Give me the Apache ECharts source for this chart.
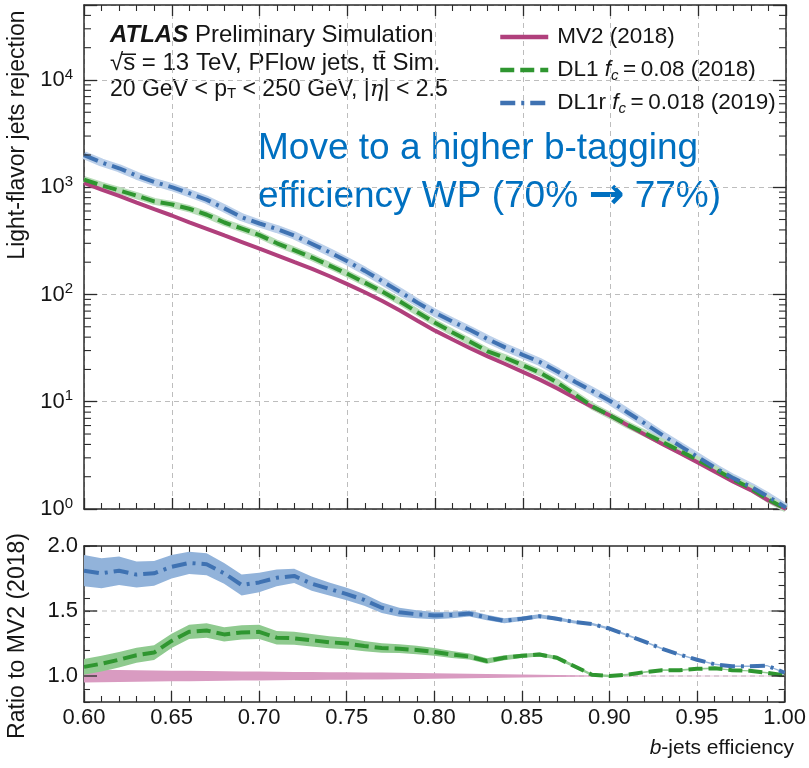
<!DOCTYPE html>
<html>
<head>
<meta charset="utf-8">
<script src="https://cdn.jsdelivr.net/npm/echarts@6/dist/echarts.min.js"></script>
<style>
  html, body { margin: 0; padding: 0; background: #fff; }
  #chart { width: 809px; height: 768px; }
</style>
</head>
<body>
<div id="chart"></div>
<script>
// b-jet tagging efficiency working points
const efficiency = [
  0.60, 0.61, 0.62, 0.63, 0.64, 0.65, 0.66, 0.67, 0.68, 0.69,
  0.70, 0.71, 0.72, 0.73, 0.74, 0.75, 0.76, 0.77, 0.78, 0.79,
  0.80, 0.81, 0.82, 0.83, 0.84, 0.85, 0.86, 0.87, 0.88, 0.89,
  0.90, 0.91, 0.92, 0.93, 0.94, 0.95, 0.96, 0.97, 0.98, 0.99,
  1.00
];

// light-flavour jet rejection per tagger
const rejectionMV2 = [
  1100, 950, 830, 720, 625, 545, 470, 410, 355, 308,
  267, 232, 200, 173, 148, 125, 105, 87, 71, 57,
  46, 38, 31.5, 26.5, 22.5, 19, 16, 13.2, 10.8, 8.9,
  7.4, 6.0, 4.9, 4.0, 3.3, 2.7, 2.2, 1.8, 1.5, 1.2,
  1.0
];
const rejectionDL1 = [
  1177, 1040, 934, 835, 738, 692, 630, 554, 469, 411,
  358, 300, 258, 221, 186, 156, 129, 106, 86, 68.4,
  54.5, 44.3, 36.2, 29.5, 25.7, 21.9, 18.6, 15.0, 11.6, 9.0,
  7.4, 6.06, 5.05, 4.18, 3.45, 2.85, 2.33, 1.88, 1.56, 1.23,
  1.0
];
const rejectionDL1r = [
  1991, 1700, 1502, 1282, 1119, 1003, 879, 763, 635, 524,
  459, 407, 354, 296, 247, 204, 166, 133, 106, 84,
  67.4, 55.9, 46.6, 38.4, 32.1, 27.4, 23.4, 19.0, 15.3, 12.5,
  10.1, 7.9, 6.2, 4.84, 3.84, 3.04, 2.40, 1.94, 1.61, 1.30,
  1.03
];

// ratio to MV2 (2018)
const ratioMV2 = [
  1, 1, 1, 1, 1, 1, 1, 1, 1, 1,
  1, 1, 1, 1, 1, 1, 1, 1, 1, 1,
  1, 1, 1, 1, 1, 1, 1, 1, 1, 1,
  1, 1, 1, 1, 1, 1, 1, 1, 1, 1,
  1
];
const ratioDL1 = [
  1.07, 1.095, 1.125, 1.16, 1.18, 1.27, 1.34, 1.35, 1.32, 1.335,
  1.34, 1.295, 1.29, 1.275, 1.26, 1.25, 1.23, 1.215, 1.21, 1.20,
  1.185, 1.165, 1.15, 1.115, 1.14, 1.155, 1.165, 1.14, 1.075, 1.01,
  1.00, 1.01, 1.03, 1.045, 1.045, 1.055, 1.06, 1.045, 1.04, 1.025,
  1.005
];
const ratioDL1r = [
  1.81, 1.79, 1.81, 1.78, 1.79, 1.84, 1.87, 1.86, 1.79, 1.70,
  1.72, 1.755, 1.77, 1.71, 1.67, 1.63, 1.585, 1.525, 1.49, 1.475,
  1.465, 1.47, 1.48, 1.45, 1.425, 1.44, 1.46, 1.44, 1.415, 1.40,
  1.365, 1.315, 1.265, 1.21, 1.165, 1.125, 1.09, 1.075, 1.075, 1.08,
  1.025
];

// statistical uncertainty (half width) of each ratio
const errMV2 = [
  0.05, 0.048, 0.046, 0.045, 0.043, 0.041, 0.04, 0.038, 0.037, 0.035,
  0.034, 0.033, 0.031, 0.03, 0.029, 0.028, 0.027, 0.026, 0.025, 0.023,
  0.022, 0.02, 0.018, 0.016, 0.014, 0.012, 0.01, 0.008, 0.006, 0.004,
  0.003, 0.002, 0.002, 0.002, 0.002, 0.001, 0.001, 0.001, 0.001, 0.001,
  0.001
];
const errDL1 = [
  0.06, 0.06, 0.06, 0.058, 0.056, 0.055, 0.055, 0.055, 0.055, 0.055,
  0.055, 0.052, 0.05, 0.048, 0.046, 0.045, 0.04, 0.037, 0.034, 0.032,
  0.03, 0.027, 0.024, 0.021, 0.019, 0.017, 0.015, 0.013, 0.011, 0.01,
  0.009, 0.008, 0.007, 0.007, 0.006, 0.006, 0.006, 0.005, 0.005, 0.005,
  0.005
];
const errDL1r = [
  0.12, 0.115, 0.11, 0.10, 0.095, 0.09, 0.085, 0.085, 0.08, 0.08,
  0.075, 0.065, 0.055, 0.055, 0.05, 0.048, 0.045, 0.04, 0.035, 0.03,
  0.028, 0.025, 0.023, 0.021, 0.019, 0.017, 0.015, 0.013, 0.011, 0.01,
  0.009, 0.008, 0.007, 0.007, 0.006, 0.006, 0.006, 0.005, 0.005, 0.005,
  0.005
];

// tagger names and legend labels
const taggerNames = ['MV2 (2018)', 'DL1 fc = 0.08 (2018)', 'DL1r fc = 0.018 (2019)'];
const legendLabels = [
  'MV2 (2018)',
  'DL1 {i|f}{sub|c}{n|\u2009=\u20090.08 (2018)}',
  'DL1r {i|f}{sub|c}{n|\u2009=\u20090.018 (2019)}'
];
const ratioTicks = [1.0, 1.5, 2.0];
const ratioGridLines = [1.0, 1.5];

const FONT = '"Liberation Sans", Arial, Helvetica, sans-serif';
const AXIS = '#2b2b2b';
const GRID = '#bdbdbd';
const TEXT = '#151515';
const NOTE = '#0070c0';
const C_MV2 = '#b0407c';
const C_DL1 = '#2f9630';
const C_DL1R = '#3f72b2';

const xMin = 0.6, xMax = 1.0;
const yMin = 1, yMax = 50000;

// log-scale minor tick positions (2..9 x 10^n)
const logMinorTicks = [];
for (let p = 0; p <= 4; p++) {
  for (let k = 2; k <= 9; k++) {
    const v = k * Math.pow(10, p);
    if (v < yMax) logMinorTicks.push(v);
  }
}

const zip = (xs, ys) => xs.map((x, i) => [x, ys[i]]);

function xAxisBase(gridIndex, position, showLabel, showSplit) {
  return {
    type: 'value', gridIndex, position, min: xMin, max: xMax, interval: 0.05,
    axisLine: { show: true, onZero: false, lineStyle: { color: AXIS, width: 1.5 } },
    axisTick: { show: true, inside: true, length: 11, lineStyle: { color: AXIS, width: 1.3 } },
    minorTick: { show: true, splitNumber: 5, length: 6, lineStyle: { color: AXIS, width: 1.1 } },
    axisLabel: {
      show: showLabel, margin: 5, fontSize: 22, fontFamily: FONT, color: TEXT,
      formatter: v => v.toFixed(2)
    },
    splitLine: { show: showSplit, lineStyle: { color: GRID, type: [5, 4], width: 1 } }
  };
}

function logAxis(position, showLabel) {
  return {
    type: 'log', logBase: 10, gridIndex: 0, position, min: yMin, max: yMax,
    axisLine: { show: true, onZero: false, lineStyle: { color: AXIS, width: 1.5 } },
    axisTick: { show: true, inside: true, length: 13, lineStyle: { color: AXIS, width: 1.3 } },
    axisLabel: {
      show: showLabel, margin: 11, fontFamily: FONT, color: TEXT,
      formatter: v => {
        const e = Math.log10(v);
        if (Math.abs(e - Math.round(e)) > 1e-6) return '';
        return '{b|10}{e|' + Math.round(e) + '}';
      },
      rich: {
        b: { fontSize: 22, lineHeight: 26, fontFamily: FONT, color: TEXT },
        e: { fontSize: 15, lineHeight: 15, verticalAlign: 'top', fontFamily: FONT, color: TEXT }
      }
    },
    splitLine: { show: position === 'left', lineStyle: { color: GRID, type: [5, 4], width: 1 } }
  };
}

function ratioAxis(position, showLabel) {
  return {
    type: 'value', gridIndex: 1, position, min: 0.8, max: 2.0, interval: 0.1,
    axisLine: { show: true, onZero: false, lineStyle: { color: AXIS, width: 1.5 } },
    axisTick: { show: true, inside: true, length: 6, lineStyle: { color: AXIS, width: 1.1 } },
    axisLabel: {
      show: showLabel, margin: 6, fontSize: 22, fontFamily: FONT, color: TEXT,
      formatter: v => ratioTicks.some(t => Math.abs(t - v) < 1e-6) ? v.toFixed(1) : ''
    },
    splitLine: { show: false }
  };
}

function bandSeries(center, err, fill) {
  return {
    type: 'custom', xAxisIndex: 2, yAxisIndex: 2, z: 2, silent: true,
    data: [[efficiency[0], center[0]]],
    renderItem: (params, api) => {
      const pts = [];
      for (let i = 0; i < efficiency.length; i++) {
        pts.push(api.coord([efficiency[i], center[i] + err[i]]));
      }
      for (let i = efficiency.length - 1; i >= 0; i--) {
        pts.push(api.coord([efficiency[i], center[i] - err[i]]));
      }
      return { type: 'polygon', shape: { points: pts }, style: { fill: fill } };
    }
  };
}

const dashDL1 = [14, 6];
const dashDL1r = [15, 6, 3, 6];

const option = {
  animation: false,
  backgroundColor: '#ffffff',
  textStyle: { fontFamily: FONT },
  grid: [
    { left: 84, right: 23, top: 5, height: 504 },
    { left: 84, right: 23, top: 546, height: 156 }
  ],
  xAxis: [
    xAxisBase(0, 'bottom', false, true),
    xAxisBase(0, 'top', false, false),
    xAxisBase(1, 'bottom', true, true),
    xAxisBase(1, 'top', false, false)
  ],
  yAxis: [
    logAxis('left', true),
    logAxis('right', false),
    ratioAxis('left', true),
    ratioAxis('right', false)
  ],
  legend: {
    orient: 'vertical', left: 493, top: 19,
    itemWidth: 48, itemHeight: 14, itemGap: 7,
    selectedMode: false,
    data: taggerNames,
    itemStyle: { opacity: 0 },
    lineStyle: { width: 4.5 },
    formatter: name => legendLabels[taggerNames.indexOf(name)],
    textStyle: {
      fontSize: 22.5, lineHeight: 26, fontFamily: FONT, color: TEXT, padding: [0, 0, 0, 4],
      rich: {
        i: { fontStyle: 'italic', fontSize: 22.5, fontFamily: FONT, color: TEXT },
        sub: { fontStyle: 'italic', fontSize: 15, lineHeight: 15, verticalAlign: 'bottom', fontFamily: FONT, color: TEXT },
        n: { fontSize: 22.5, fontFamily: FONT, color: TEXT }
      }
    }
  },
  series: [
    // uncertainty halos in the rejection panel
    {
      type: 'line', xAxisIndex: 0, yAxisIndex: 0, silent: true, symbol: 'none', z: 2,
      data: zip(efficiency, rejectionDL1r),
      lineStyle: { color: '#bcd0ea', width: 8 }
    },
    {
      type: 'line', xAxisIndex: 0, yAxisIndex: 0, silent: true, symbol: 'none', z: 2,
      data: zip(efficiency, rejectionDL1),
      lineStyle: { color: '#b9ddb9', width: 7 }
    },
    // rejection curves
    {
      name: taggerNames[0], type: 'line', xAxisIndex: 0, yAxisIndex: 0, symbol: 'none', z: 4,
      data: zip(efficiency, rejectionMV2),
      itemStyle: { color: C_MV2 },
      lineStyle: { color: C_MV2, width: 4 }
    },
    {
      name: taggerNames[1], type: 'line', xAxisIndex: 0, yAxisIndex: 0, symbol: 'none', z: 5,
      data: zip(efficiency, rejectionDL1),
      itemStyle: { color: C_DL1 },
      lineStyle: { color: C_DL1, width: 4, type: dashDL1 }
    },
    {
      name: taggerNames[2], type: 'line', xAxisIndex: 0, yAxisIndex: 0, symbol: 'none', z: 6,
      data: zip(efficiency, rejectionDL1r),
      itemStyle: { color: C_DL1R },
      lineStyle: { color: C_DL1R, width: 4, type: dashDL1r }
    },
    // minor ticks of the logarithmic axes
    {
      type: 'custom', xAxisIndex: 0, yAxisIndex: 0, silent: true, z: 10,
      data: logMinorTicks.map(v => [xMin, v]),
      renderItem: (params, api) => {
        const v = api.value(1);
        const l = api.coord([xMin, v]);
        const r = api.coord([xMax, v]);
        return {
          type: 'group', children: [
            { type: 'line', shape: { x1: l[0], y1: l[1], x2: l[0] + 7, y2: l[1] }, style: { stroke: AXIS, lineWidth: 1.1 } },
            { type: 'line', shape: { x1: r[0] - 7, y1: r[1], x2: r[0], y2: r[1] }, style: { stroke: AXIS, lineWidth: 1.1 } }
          ]
        };
      }
    },
    // horizontal reference lines in the ratio panel
    {
      type: 'custom', xAxisIndex: 2, yAxisIndex: 2, silent: true, z: 1,
      data: ratioGridLines.map(v => [xMin, v]),
      renderItem: (params, api) => {
        const v = api.value(1);
        const l = api.coord([xMin, v]);
        const r = api.coord([xMax, v]);
        return { type: 'line', shape: { x1: l[0], y1: l[1], x2: r[0], y2: r[1] }, style: { stroke: GRID, lineWidth: 1, lineDash: [5, 4] } };
      }
    },
    // ratio uncertainty bands
    bandSeries(ratioMV2, errMV2, '#d99bc1'),
    bandSeries(ratioDL1r, errDL1r, '#92b3da'),
    bandSeries(ratioDL1, errDL1, '#8fca8f'),
    // ratio curves
    {
      type: 'line', xAxisIndex: 2, yAxisIndex: 2, silent: true, symbol: 'none', z: 5,
      data: zip(efficiency, ratioDL1),
      lineStyle: { color: C_DL1, width: 4, type: dashDL1 }
    },
    {
      type: 'line', xAxisIndex: 2, yAxisIndex: 2, silent: true, symbol: 'none', z: 6,
      data: zip(efficiency, ratioDL1r),
      lineStyle: { color: C_DL1R, width: 4, type: dashDL1r }
    },
    // major ticks of the ratio axes
    {
      type: 'custom', xAxisIndex: 2, yAxisIndex: 2, silent: true, z: 10,
      data: ratioTicks.map(v => [xMin, v]),
      renderItem: (params, api) => {
        const v = api.value(1);
        const l = api.coord([xMin, v]);
        const r = api.coord([xMax, v]);
        return {
          type: 'group', children: [
            { type: 'line', shape: { x1: l[0], y1: l[1], x2: l[0] + 13, y2: l[1] }, style: { stroke: AXIS, lineWidth: 1.3 } },
            { type: 'line', shape: { x1: r[0] - 13, y1: r[1], x2: r[0], y2: r[1] }, style: { stroke: AXIS, lineWidth: 1.3 } }
          ]
        };
      }
    }
  ],
  graphic: [
    {
      type: 'text', x: 110, y: 35,
      style: {
        text: '{a|ATLAS} Preliminary Simulation',
        fontSize: 24, fontFamily: FONT, fill: TEXT, verticalAlign: 'middle',
        rich: { a: { fontSize: 24, fontWeight: 'bold', fontStyle: 'italic', fontFamily: FONT, fill: TEXT } }
      }
    },
    {
      type: 'text', x: 110, y: 63.5,
      style: {
        text: '\u221As\u0305 = 13 TeV, PFlow jets, tt\u0304 Sim.',
        fontSize: 24, fontFamily: FONT, fill: TEXT, verticalAlign: 'middle'
      }
    },
    {
      type: 'text', x: 110, y: 90,
      style: {
        text: '20 GeV < p{s|T} < 250 GeV, |{i|\u03b7}| < 2.5',
        fontSize: 23, fontFamily: FONT, fill: TEXT, verticalAlign: 'middle',
        rich: {
          s: { fontSize: 15, lineHeight: 15, verticalAlign: 'bottom', fontFamily: FONT, fill: TEXT },
          i: { fontSize: 23, fontStyle: 'italic', fontFamily: 'DejaVu Serif, serif', fill: TEXT }
        }
      }
    },
    {
      type: 'text', x: 258, y: 148.5,
      style: { text: 'Move to a higher b-tagging', fontSize: 37, fontFamily: FONT, fill: NOTE, verticalAlign: 'middle' }
    },
    {
      type: 'text', x: 258, y: 196.8,
      style: {
        text: 'efficiency WP (70% {a|\u2192} 77%)', fontSize: 37, fontFamily: FONT, fill: NOTE, verticalAlign: 'middle',
        rich: { a: { fontSize: 43, fontWeight: 'bold', fontFamily: '"DejaVu Sans", sans-serif', fill: NOTE } }
      }
    },
    {
      type: 'text', x: 18, y: 135, rotation: Math.PI / 2,
      style: { text: 'Light-flavor jets rejection', fontSize: 23, fontFamily: FONT, fill: TEXT, align: 'center', verticalAlign: 'middle' }
    },
    {
      type: 'text', x: 18, y: 636, rotation: Math.PI / 2,
      style: { text: 'Ratio to MV2 (2018)', fontSize: 23, fontFamily: FONT, fill: TEXT, align: 'center', verticalAlign: 'middle' }
    },
    {
      type: 'text', x: 794, y: 748,
      style: {
        text: '{i|b}-jets efficiency',
        fontSize: 21, fontFamily: FONT, fill: TEXT, align: 'right', verticalAlign: 'middle',
        rich: { i: { fontSize: 21, fontStyle: 'italic', fontFamily: FONT, fill: TEXT } }
      }
    }
  ]
};

const chart = echarts.init(document.getElementById('chart'), null, { renderer: 'canvas' });
chart.setOption(option);
</script>
</body>
</html>
